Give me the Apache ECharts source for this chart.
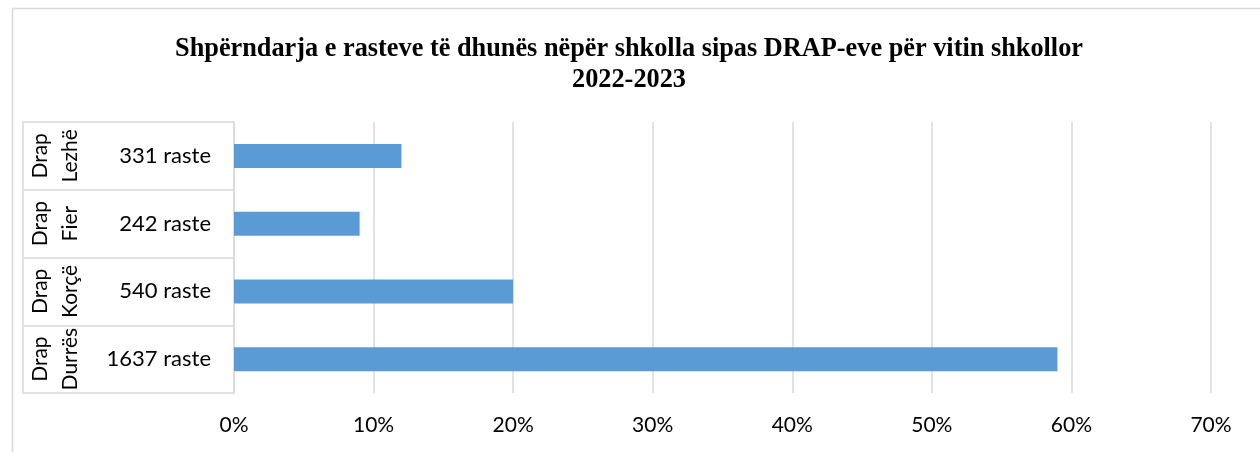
<!DOCTYPE html>
<html>
<head>
<meta charset="utf-8">
<script src="https://cdn.jsdelivr.net/npm/echarts@6/dist/echarts.min.js"></script>
<style>
  html, body { margin: 0; padding: 0; background: #fff; }
  #main { width: 1260px; height: 452px; }
</style>
</head>
<body>
<div id="main"></div>
<script>
// categories top to bottom
var drapNames = ["Drap\nLezhë", "Drap\nFier", "Drap\nKorçë", "Drap\nDurrës"];
var casesLabels = ["331 raste", "242 raste", "540 raste", "1637 raste"];
// share of cases, percent
var shareValues = [12, 9, 20, 59];
var xTicks = { min: 0, max: 70, interval: 10 };

var chart = echarts.init(document.getElementById("main"));
var lineColor = "#d9d9d9";
var labelFont = "Lato, 'Open Sans', sans-serif";

var option = {
  animation: false,
  backgroundColor: "#fff",
  title: {
    text: "Shpërndarja e rasteve të dhunës nëpër shkolla sipas DRAP-eve për vitin shkollor\n2022-2023",
    left: 624,
    top: 29,
    textAlign: "center",
    textStyle: {
      fontFamily: "'Liberation Serif', 'Times New Roman', serif",
      fontWeight: "bold",
      fontSize: 26.3,
      lineHeight: 31,
      color: "#000"
    }
  },
  graphic: [{
    type: "rect",
    left: 10,
    top: 6,
    shape: { width: 1249, height: 470 },
    style: { fill: "none", stroke: lineColor, lineWidth: 1.5 },
    silent: true
  }],
  grid: { left: 234, right: 49, top: 122, bottom: 59 },
  xAxis: {
    type: "value",
    min: xTicks.min,
    max: xTicks.max,
    interval: xTicks.interval,
    axisLine: { show: false },
    axisTick: { show: false },
    splitLine: { lineStyle: { color: lineColor, width: 1.5 } },
    axisLabel: {
      formatter: "{value}%",
      margin: 22,
      fontFamily: labelFont,
      fontSize: 21,
      color: "#000"
    }
  },
  yAxis: [{
    type: "category",
    inverse: true,
    data: casesLabels,
    axisLine: { show: true, lineStyle: { color: lineColor, width: 1.5 } },
    axisTick: { show: true, alignWithLabel: false, interval: 0, length: 211, lineStyle: { color: lineColor, width: 1.5 } },
    axisLabel: {
      interval: 0,
      margin: 23,
      fontFamily: labelFont,
      fontSize: 22,
      color: "#000"
    }
  }, {
    type: "category",
    position: "left",
    offset: 211,
    inverse: true,
    data: drapNames,
    axisLine: { show: true, lineStyle: { color: lineColor, width: 1.5 } },
    axisTick: { show: false },
    axisLabel: {
      interval: 0,
      hideOverlap: false,
      inside: true,
      margin: 32,
      rotate: 90,
      align: "center",
      verticalAlign: "middle",
      lineHeight: 30,
      fontFamily: labelFont,
      fontSize: 21,
      color: "#000"
    }
  }],
  series: [{
    type: "bar",
    yAxisIndex: 0,
    data: shareValues,
    barWidth: 24,
    itemStyle: { color: "#5b9bd5" }
  }]
};

chart.setOption(option);
</script>
</body>
</html>
